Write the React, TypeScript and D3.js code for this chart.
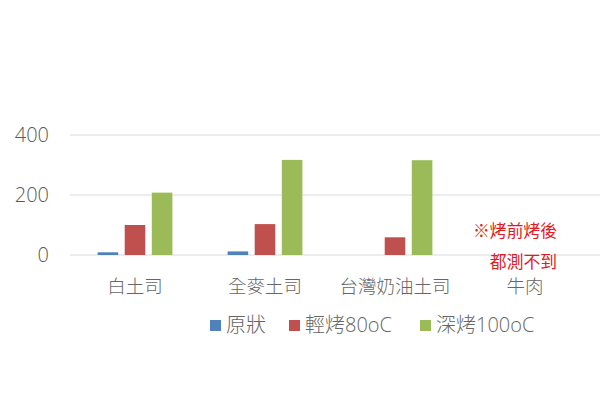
import React from 'react';
import * as d3 from 'd3';

const categories = ['白土司', '全麥土司', '台灣奶油土司', '牛肉'];
const seriesNames = ['原狀', '輕烤80oC', '深烤100oC'];
const seriesColors = ['#4F81BD', '#C0504D', '#9BBB59'];
const rawValues = [9, 12, 0, 0];
const lightValues = [100, 103, 59, 0];
const deepValues = [208, 317, 316, 0];
const yTicks = [0, 200, 400];
const noteLines = ['※烤前烤後', '都測不到'];

const W = 600;
const H = 420;
const FONT = '"Open Sans", "Noto Sans CJK TC", sans-serif';

const App: React.FC = () => {
  const series = [rawValues, lightValues, deepValues];

  const x = d3.scaleBand<string>().domain(categories).range([70, 590]).paddingInner(0).paddingOuter(0);
  const xi = d3.scaleBand<number>().domain([0, 1, 2]).range([0, x.bandwidth()]).paddingInner(0.24).paddingOuter(1.02);
  const y = d3.scaleLinear().domain([0, 400]).range([255, 135]);

  return (
    <svg width={W} height={H} style={{ position: 'absolute', left: 0, top: 0, background: '#fff' }} fontFamily={FONT}>
      {/* grid */}
      {yTicks.map((t) => (
        <g key={t}>
          <line x1={70} x2={600} y1={y(t)} y2={y(t)} stroke="#d9d9d9" strokeWidth={1} />
          <text x={49} y={y(t)} dy="0.35em" textAnchor="end" fontSize={20} fontWeight={300} fill="#595959">{t}</text>
        </g>
      ))}

      {/* bars */}
      {categories.map((c, ci) => (
        <g key={c} transform={`translate(${x(c)},0)`}>
          {series.map((vals, si) => vals[ci] > 0 ? (
            <rect key={si} x={xi(si)} width={xi.bandwidth()} y={y(vals[ci])} height={y(0) - y(vals[ci])} fill={seriesColors[si]} />
          ) : null)}
          <text x={x.bandwidth() / 2} y={287} dy="0.35em" textAnchor="middle" fontSize={18.5} fontWeight={300} fill="#666">{c}</text>
        </g>
      ))}

      {/* note */}
      {noteLines.map((t, i) => (
        <text key={t} x={557} y={231 + i * 31} dy="0.35em" textAnchor="end" fontSize={16.8} fill="#e3191f">{t}</text>
      ))}

      {/* legend */}
      {seriesNames.map((n, i) => {
        const lx = [210, 289, 420][i];
        return (
          <g key={n} transform={`translate(${lx},325)`}>
            <rect x={0} y={-5} width={11} height={11} fill={seriesColors[i]} />
            <text x={16} y={0} dy="0.35em" fontSize={20} fontWeight={300} fill="#666">{n}</text>
          </g>
        );
      })}
    </svg>
  );
};

export default App;
